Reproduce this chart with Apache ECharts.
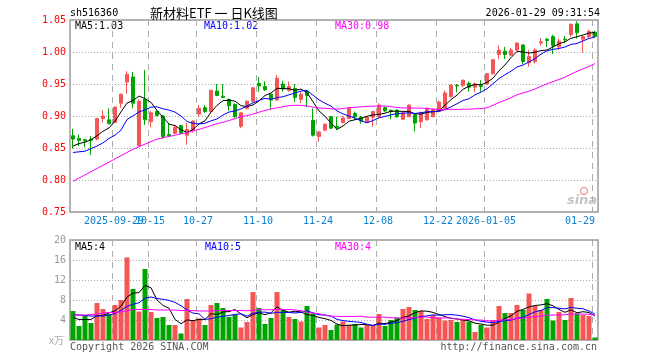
<!DOCTYPE html>
<html><head><meta charset="utf-8">
<script src="https://cdn.jsdelivr.net/npm/echarts@6/dist/echarts.min.js"></script>
<style>html,body{margin:0;padding:0;background:#fff}#c{width:660px;height:360px}</style>
</head><body><div id="c"></div>
<script>
const dates = ['09-18','09-19','09-22','09-23','09-24','09-25','09-26','09-29','09-30',
'10-09','10-10','10-13','10-14','10-15','10-16','10-17','10-20','10-21','10-22','10-23','10-24','10-27','10-28','10-29','10-30','10-31',
'11-03','11-04','11-05','11-06','11-07','11-10','11-11','11-12','11-13','11-14','11-17','11-18','11-19','11-20','11-21','11-24','11-25','11-26','11-27','11-28',
'12-01','12-02','12-03','12-04','12-05','12-08','12-09','12-10','12-11','12-12','12-15','12-16','12-17','12-18','12-19','12-22','12-23','12-24','12-25','12-26','12-29','12-30','12-31',
'01-05','01-06','01-07','01-08','01-09','01-12','01-13','01-14','01-15','01-16','01-19','01-20','01-21','01-22','01-23','01-26','01-27','01-28','01-29'];

const open  = [0.869,0.865,0.863,0.864,0.864,0.896,0.894,0.890,0.920,0.953,0.961,0.854,0.926,0.891,0.907,0.900,0.871,0.873,0.885,0.870,0.877,0.903,0.913,0.907,0.939,0.931,0.926,0.918,0.884,0.912,
0.923,0.951,0.946,0.934,0.925,0.950,0.940,0.943,0.926,0.939,0.893,0.868,0.878,0.899,0.884,0.890,0.896,0.904,0.898,0.890,0.898,0.899,0.913,0.909,0.909,0.895,0.899,0.902,0.891,0.894,
0.899,0.907,0.912,0.930,0.948,0.948,0.951,0.945,0.948,0.950,0.966,0.996,1.001,0.995,1.003,1.011,0.983,0.985,1.014,1.020,1.024,1.008,1.020,1.027,1.044,1.020,1.024,1.031];
const close = [0.864,0.862,0.861,0.862,0.896,0.900,0.888,0.914,0.934,0.965,0.920,0.923,0.894,0.905,0.901,0.868,0.869,0.882,0.873,0.879,0.892,0.912,0.907,0.940,0.932,0.929,0.916,0.899,0.905,0.923,
0.944,0.947,0.941,0.925,0.959,0.942,0.946,0.929,0.934,0.932,0.870,0.875,0.887,0.881,0.882,0.897,0.912,0.899,0.892,0.898,0.907,0.917,0.908,0.907,0.899,0.905,0.917,0.889,0.905,0.912,
0.910,0.922,0.936,0.948,0.947,0.956,0.945,0.950,0.946,0.966,0.988,1.003,0.996,1.003,1.014,0.985,0.993,1.003,1.016,1.018,1.010,1.017,1.019,1.043,1.030,1.024,1.032,1.024];
const low   = [0.849,0.853,0.851,0.839,0.862,0.890,0.887,0.889,0.913,0.935,0.912,0.853,0.886,0.882,0.899,0.864,0.867,0.872,0.872,0.855,0.874,0.899,0.905,0.904,0.931,0.928,0.908,0.897,0.881,0.910,
0.921,0.938,0.939,0.910,0.924,0.938,0.938,0.922,0.920,0.914,0.868,0.860,0.876,0.880,0.878,0.888,0.895,0.894,0.888,0.889,0.883,0.897,0.906,0.895,0.897,0.894,0.898,0.876,0.881,0.893,
0.898,0.906,0.911,0.929,0.937,0.945,0.938,0.937,0.938,0.949,0.965,0.989,0.989,0.994,1.001,0.981,0.977,0.982,1.010,1.008,0.997,1.003,1.014,1.024,1.021,0.999,1.021,1.023];
const high  = [0.880,0.871,0.864,0.869,0.897,0.909,0.912,0.914,0.935,0.970,0.969,0.926,0.972,0.908,0.909,0.901,0.889,0.886,0.886,0.889,0.893,0.917,0.917,0.941,0.950,0.950,0.927,0.920,0.906,0.924,
0.945,0.961,0.954,0.935,0.964,0.955,0.954,0.950,0.938,0.941,0.912,0.877,0.889,0.900,0.899,0.900,0.913,0.907,0.900,0.900,0.908,0.920,0.915,0.910,0.911,0.906,0.918,0.903,0.907,0.913,
0.912,0.924,0.940,0.950,0.950,0.957,0.954,0.953,0.956,0.967,0.989,1.010,1.008,1.006,1.015,1.012,1.003,1.006,1.022,1.022,1.027,1.021,1.025,1.045,1.048,1.025,1.035,1.033];
const volume = [5.8,2.8,4.9,3.4,7.4,6.2,5.2,7.0,8.0,16.5,10.2,5.7,14.2,5.6,4.4,4.6,3.0,3.0,1.3,8.2,3.8,4.3,3.0,7.0,7.4,6.4,4.6,5.1,2.5,3.6,
9.6,6.4,3.2,4.4,9.6,6.0,4.6,4.2,3.7,6.8,5.3,2.5,3.0,2.0,3.1,3.7,3.0,3.2,2.5,3.0,2.9,5.2,2.8,4.0,4.5,6.2,6.6,6.0,5.8,4.2,
5.0,4.5,3.9,4.0,3.6,4.0,3.7,1.6,3.0,2.5,4.0,6.8,5.4,5.4,7.0,6.0,9.3,6.8,6.0,8.2,3.9,5.6,4.0,8.4,5.3,5.0,4.8,0.5];

// moving-average values for the first days (history before the window)
const ma5Head  = [0.853,0.857,0.859,0.863];
const ma10Head = [0.843,0.844,0.845,0.849,0.853,0.858,0.865,0.870,0.878];
const ma30Head = [0.798,0.803,0.808,0.813,0.818,0.823,0.828,0.833,0.838,0.843,0.848,0.852,0.856,0.860,0.864,0.866,0.868,0.870,0.872,0.874,0.877,0.879,0.882,0.885,0.888,0.890,0.893,0.896,0.899];
const vma5Head  = [4.5,4.1,4.1,4.1];
const vma10Head = [5.0,5.0,4.9,4.8,4.8,4.8,5.0,5.3,5.9];
const vma30Head = [5.0,5.0,5.0,5.1,5.2,5.4,5.5,5.5,5.6,5.8,6.1,6.1,6.1,6.1,6.0,6.0,6.0,6.0,5.9,5.9,5.9,5.8,5.8,5.8,5.9,5.9,5.9,5.9,5.9];

const priceTicks = {min:0.75, max:1.05, step:0.05};
const volTicks = {min:0, max:20, step:4};
const labelIndex = [7,13,21,31,41,51,61,69,87];
const labelText = ['2025-09-29','10-15','10-27','11-10','11-24','12-08','12-22','2026-01-05','01-29'];

function ma(arr, n, head){
  return arr.map((v,i)=>{
    if(i < n-1) return head[i];
    let s=0; for(let k=i-n+1;k<=i;k++) s+=arr[k];
    return +(s/n).toFixed(4);
  });
}
const RED='#f65555', GREEN='#00a300', LBLUE='#0b80d2';
const MONO='DejaVu Sans Mono';

// vertical dashed date lines (at band edges) + date labels, placed via the axis scales
function dateGrid(top){
  const yr = top ? [priceTicks.min, priceTicks.max] : [volTicks.min, volTicks.max];
  return {
    type:'custom', xAxisIndex: top?0:1, yAxisIndex: top?0:1, silent:true, clip:false, z:1,
    data: labelIndex.map((idx,k)=>[idx,k]),
    renderItem:(params, api)=>{
      const idx = api.value(0), k = api.value(1);
      const bw = api.size([1,0])[0];
      const p0 = api.coord([idx, yr[0]]), p1 = api.coord([idx, yr[1]]);
      const x = Math.round(p0[0]-bw/2)+0.5;
      const ch = [{type:'line', shape:{x1:x,y1:p1[1],x2:x,y2:p0[1]}, style:{stroke:'#ababab', lineWidth:1, lineDash:[6,5]}}];
      if(top){
        const last = k===labelText.length-1;
        ch.push({type:'text', style:{text:labelText[k], x: last ? x+2.5 : x+1.5, y:p0[1]+9.5,
          fill:LBLUE, font:'10px "'+MONO+'"', textAlign: last?'right':'center', textVerticalAlign:'middle'}});
      }
      return {type:'group', children:ch};
    }
  };
}

const chart = echarts.init(document.getElementById('c'), null, {renderer:'canvas'});
const splitY = {show:true, lineStyle:{color:'#aaa', width:1, type:[1,2]}};
function txt(t,x,y,color,opts){
  return {type:'text', silent:true, style:Object.assign({text:t, x:x, y:y, fill:color, font:'10px "'+MONO+'"', textAlign:'left', textVerticalAlign:'middle'}, opts||{})};
}
chart.setOption({
  animation:false,
  backgroundColor:'#fff',
  grid:[
    {left:70, top:20, width:528, height:192, show:true, borderColor:'#9a9a9a', borderWidth:1.5},
    {left:70, top:240, width:528, height:100, show:true, borderColor:'#9a9a9a', borderWidth:1.5}
  ],
  xAxis:[
    {type:'category', gridIndex:0, data:dates, boundaryGap:true,
     axisLine:{show:false}, axisTick:{show:false}, axisLabel:{show:false}, splitLine:{show:false}},
    {type:'category', gridIndex:1, data:dates, boundaryGap:true,
     axisLine:{show:false}, axisTick:{show:false}, axisLabel:{show:false}, splitLine:{show:false}}
  ],
  yAxis:[
    {type:'value', gridIndex:0, min:priceTicks.min, max:priceTicks.max, interval:priceTicks.step,
     axisLine:{show:false}, axisTick:{show:false},
     axisLabel:{color:'#ff0000', fontFamily:MONO, fontSize:10, margin:4, formatter:v=>v.toFixed(2)},
     splitLine:splitY},
    {type:'value', gridIndex:1, min:volTicks.min, max:volTicks.max, interval:volTicks.step,
     axisLine:{show:false}, axisTick:{show:false},
     axisLabel:{color:'#999', fontFamily:MONO, fontSize:10, margin:4, formatter:v=>v===0?'':String(v)},
     splitLine:splitY}
  ],
  series:[
    dateGrid(true),
    dateGrid(false),
    {type:'candlestick', xAxisIndex:0, yAxisIndex:0, barWidth:4,
     data:dates.map((d,i)=>[open[i],close[i],low[i],high[i]]),
     itemStyle:{color:RED, color0:GREEN, borderColor:RED, borderColor0:GREEN, borderWidth:1}},
    {type:'line', xAxisIndex:0, yAxisIndex:0, data:ma(close,5,ma5Head), symbol:'none', lineStyle:{color:'#000', width:1}},
    {type:'line', xAxisIndex:0, yAxisIndex:0, data:ma(close,10,ma10Head), symbol:'none', lineStyle:{color:'#0000ff', width:1}},
    {type:'line', xAxisIndex:0, yAxisIndex:0, data:ma(close,30,ma30Head), symbol:'none', lineStyle:{color:'#ff00ff', width:1}},
    {type:'bar', xAxisIndex:1, yAxisIndex:1, barWidth:5,
     data:volume.map((v,i)=>({value:v, itemStyle:{color: close[i]>=open[i]?RED:GREEN}}))},
    {type:'line', xAxisIndex:1, yAxisIndex:1, data:ma(volume,5,vma5Head), symbol:'none', lineStyle:{color:'#000', width:1}},
    {type:'line', xAxisIndex:1, yAxisIndex:1, data:ma(volume,10,vma10Head), symbol:'none', lineStyle:{color:'#0000ff', width:1}},
    {type:'line', xAxisIndex:1, yAxisIndex:1, data:ma(volume,30,vma30Head), symbol:'none', lineStyle:{color:'#ff00ff', width:1}}
  ],
  graphic:[
    txt('sh516360',70,13,'#000'),
    txt('新材料ETF 一 日K线图',150,13,'#000',{font:'13px "Noto Sans CJK SC"'}),
    txt('2026-01-29 09:31:54',600,13,'#000',{textAlign:'right'}),
    txt('MA5:1.03',75,26,'#000'),
    txt('MA10:1.02',204,26,'#0000ff'),
    txt('MA30:0.98',335,26,'#ff00ff'),
    txt('MA5:4',75,247,'#000'),
    txt('MA10:5',205,247,'#0000ff'),
    txt('MA30:4',335,247,'#ff00ff'),
    txt('x万',64,340,'#aaa',{textAlign:'right', font:'10px "Noto Sans CJK SC"'}),
    txt('Copyright 2026 SINA.COM',70,347,'#555'),
    txt('http://finance.sina.com.cn',597,347,'#555',{textAlign:'right'}),
    {type:'circle', silent:true, shape:{cx:584, cy:191, r:3.5}, style:{fill:'none', stroke:'#f2a0a0', lineWidth:1.5}},
    txt('sina',582,201,'#c4c4c4',{textAlign:'center', font:'italic bold 13px "DejaVu Sans"'})
  ]
});
</script></body></html>
